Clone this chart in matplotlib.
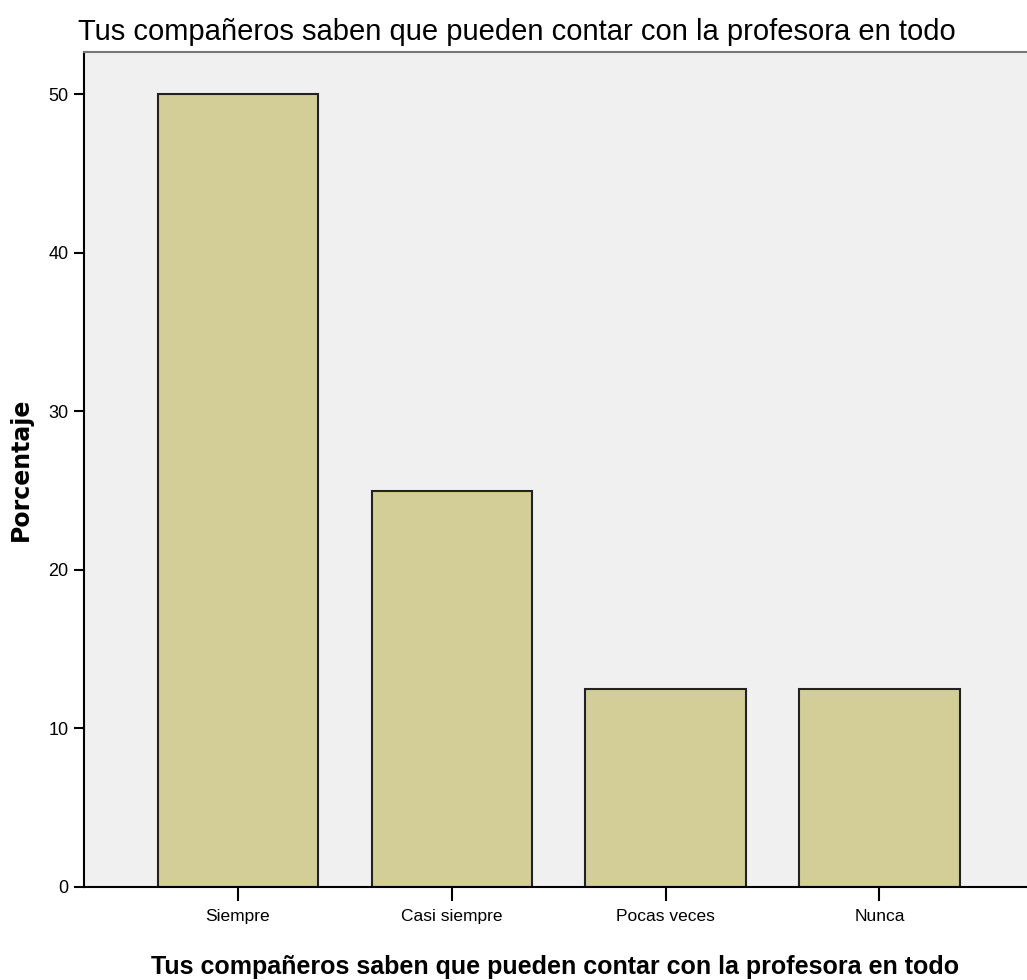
import matplotlib.pyplot as plt
import numpy as np

# data
categorias = ["Siempre", "Casi siempre", "Pocas veces", "Nunca"]
porcentajes = [50.0, 25.0, 12.5, 12.5]
yticks = [0, 10, 20, 30, 40, 50]
titulo = "Tus compañeros saben que pueden contar con la profesora en todo"

fuente = ["Liberation Sans", "DejaVu Sans"]

fig = plt.figure(figsize=(10.27, 9.8), dpi=100)
ax = fig.add_axes([0.0818, 0.0949, 0.9182, 0.852])
ax.set_facecolor("#F0F0F0")

x = np.arange(len(categorias))
ax.bar(x, porcentajes, width=0.75, color="#D3CE98", edgecolor="#222222", linewidth=1.5, zorder=2)

ax.set_xlim(-0.72, 3.69)
ax.set_ylim(0, 52.65)
ax.set_yticks(yticks)
ax.set_xticks(x)
ax.set_xticklabels(categorias, family=fuente, fontsize=12.5)
ax.set_yticklabels([str(t) for t in yticks], family=fuente, fontsize=13)
ax.tick_params(axis="y", length=7, width=1.5, pad=4)
ax.tick_params(axis="x", length=10, width=1.5, pad=6)

ax.spines["right"].set_visible(False)
ax.spines["top"].set_color("#777777")
ax.spines["top"].set_linewidth(1.5)
ax.spines["left"].set_linewidth(1.5)
ax.spines["bottom"].set_linewidth(1.5)

ax.set_ylabel("Porcentaje", fontsize=17, fontweight="bold", family="DejaVu Sans", labelpad=11)
ax.set_xlabel(titulo, fontsize=18, fontweight="bold", family=fuente, labelpad=22)
fig.text(0.076, 0.967, titulo, fontsize=21, family=fuente, ha="left", va="center")

fig.savefig("out.png", dpi=100)
